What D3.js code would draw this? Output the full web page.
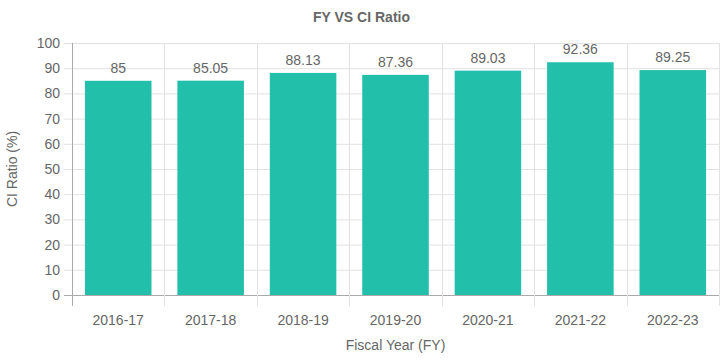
<!DOCTYPE html>
<html>
<head>
<meta charset="utf-8">
<script src="https://cdn.jsdelivr.net/npm/d3@7"></script>
<style>
  body { margin: 0; background: #fff; }
  text { font-family: "Liberation Sans", Arial, sans-serif; fill: #666; }
</style>
</head>
<body>
<svg></svg>
<script>
let width = 723,
    height = 361;

let years = ['2016-17', '2017-18', '2018-19', '2019-20', '2020-21', '2021-22', '2022-23'];
let ratios = [85, 85.05, 88.13, 87.36, 89.03, 92.36, 89.25];
let yTicks = [0, 10, 20, 30, 40, 50, 60, 70, 80, 90, 100];

let margin = {top: 43, right: 4, bottom: 66, left: 72};

let svg = d3.select("svg")
    .attr("width", width)
    .attr("height", height);

let x = d3.scaleBand()
    .domain(years)
    .range([margin.left, width - margin.right]);

let y = d3.scaleLinear()
    .domain([0, 100])
    .range([height - margin.bottom, margin.top]);

// grid lines
let grid = svg.append("g");
grid.selectAll(".hgrid")
    .data(yTicks)
    .enter().append("line")
    .attr("x1", margin.left - 8)
    .attr("x2", width - margin.right)
    .attr("y1", d => y(d) + 0.5)
    .attr("y2", d => y(d) + 0.5)
    .attr("stroke", d => d === 0 ? "#aaa" : "#e2e2e2");

let vlines = years.map(d => x(d)).concat([width - margin.right]);
grid.selectAll(".vgrid")
    .data(vlines)
    .enter().append("line")
    .attr("x1", d => Math.round(d) + 0.5)
    .attr("x2", d => Math.round(d) + 0.5)
    .attr("y1", margin.top)
    .attr("y2", height - margin.bottom + 11)
    .attr("stroke", (d, i) => i === 0 ? "#aaa" : "#e2e2e2");

// bars: 0.9 * 0.8 of the band, centered
let barW = x.bandwidth() * 0.72;
svg.selectAll(".bar")
    .data(ratios)
    .enter().append("rect")
    .attr("x", (d, i) => x(years[i]) + (x.bandwidth() - barW) / 2)
    .attr("y", d => y(d))
    .attr("width", barW)
    .attr("height", d => y(0) - y(d))
    .attr("fill", "#22bfaa");

// value labels
svg.selectAll(".val")
    .data(ratios)
    .enter().append("text")
    .attr("x", (d, i) => x(years[i]) + x.bandwidth() / 2)
    .attr("y", d => y(d) - 8)
    .attr("text-anchor", "middle")
    .attr("font-size", 14)
    .text(d => d);

// y tick labels
svg.selectAll(".ytick")
    .data(yTicks)
    .enter().append("text")
    .attr("x", margin.left - 12)
    .attr("y", d => y(d) + 5)
    .attr("text-anchor", "end")
    .attr("font-size", 14)
    .text(d => d);

// x tick labels
svg.selectAll(".xtick")
    .data(years)
    .enter().append("text")
    .attr("x", d => x(d) + x.bandwidth() / 2)
    .attr("y", height - margin.bottom + 30)
    .attr("text-anchor", "middle")
    .attr("font-size", 14)
    .text(d => d);

// titles
svg.append("text")
    .attr("x", width / 2)
    .attr("y", 22)
    .attr("text-anchor", "middle")
    .attr("font-size", 14)
    .attr("font-weight", "bold")
    .text("FY VS CI Ratio");

svg.append("text")
    .attr("x", (margin.left + width - margin.right) / 2)
    .attr("y", 350)
    .attr("text-anchor", "middle")
    .attr("font-size", 14)
    .text("Fiscal Year (FY)");

svg.append("text")
    .attr("transform", `translate(17, ${(margin.top + height - margin.bottom) / 2}) rotate(-90)`)
    .attr("text-anchor", "middle")
    .attr("font-size", 14)
    .text("CI Ratio (%)");
</script>
</body>
</html>
